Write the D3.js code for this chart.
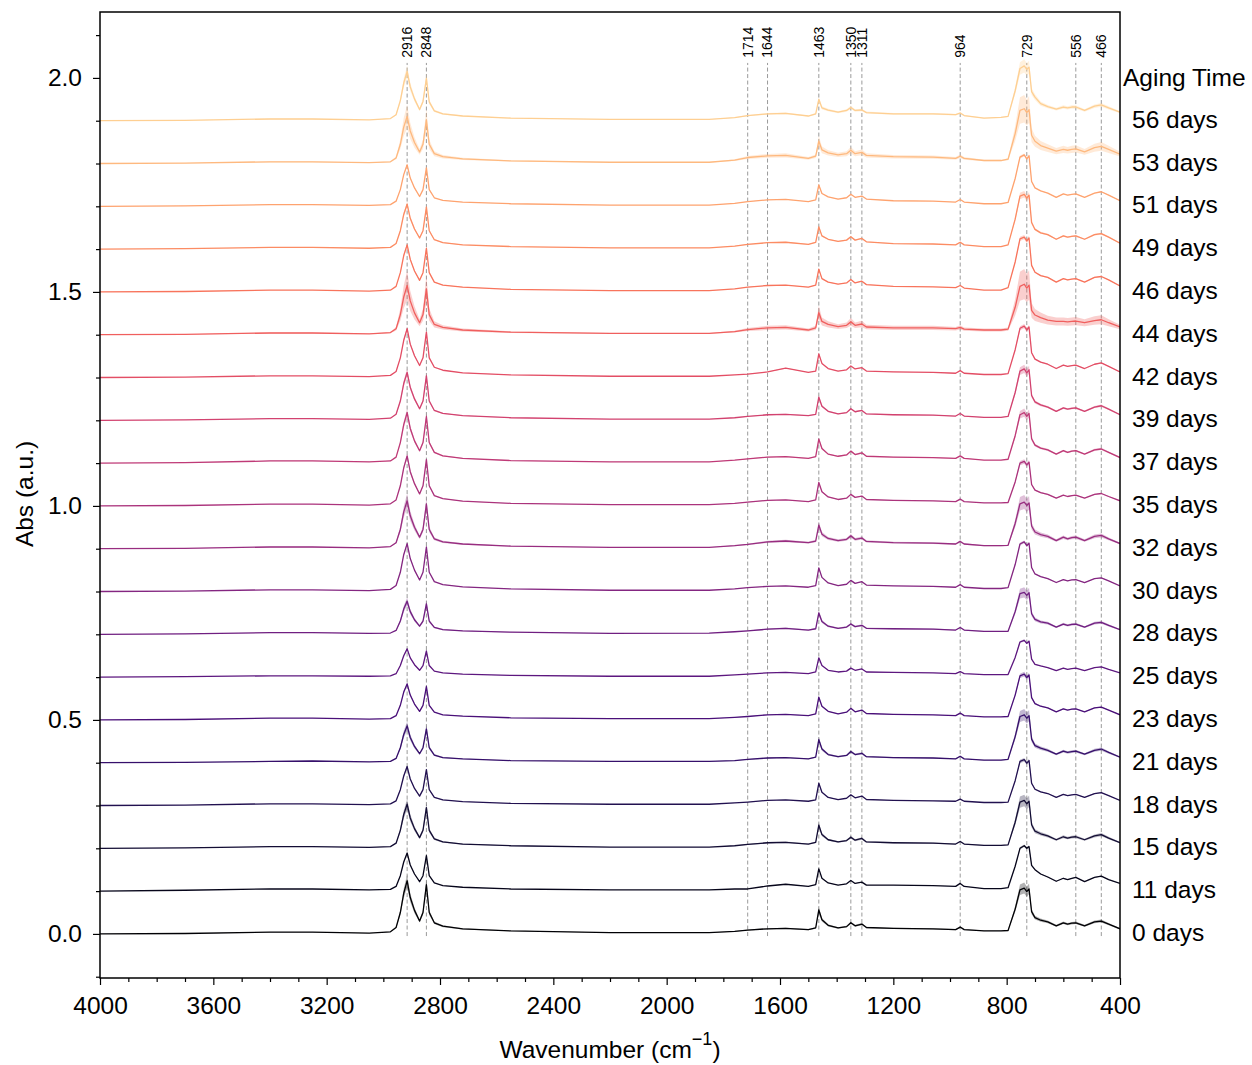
<!DOCTYPE html>
<html>
<head>
<meta charset="utf-8">
<script src="https://d3js.org/d3.v7.min.js"></script>
<style>
  body { margin: 0; background: #fff; }
  text { font-family: "Liberation Sans", Arial, Helvetica, sans-serif; }
</style>
</head>
<body>
<script>
// shared wavenumber grid (cm-1) for all spectra
var wavenumbers = [4000, 3700, 3400, 3250, 3050,
  2975, 2955, 2940, 2928, 2916, 2905, 2890, 2872, 2860, 2848, 2838, 2820, 2790,
  2720, 2550, 2200, 1850, 1760,
  1714, 1644, 1580, 1500, 1474, 1463, 1452, 1430, 1395, 1365, 1350, 1335, 1311, 1295,
  1200, 1060, 980, 964, 950, 880, 820,
  795, 770, 753, 738, 729, 721, 712, 700, 680, 655, 625, 600, 585, 570, 556, 525, 490, 466, 440, 400];

var days = [0, 11, 15, 18, 21, 23, 25, 28, 30, 32, 35, 37, 39, 42, 44, 46, 49, 51, 53, 56];
var offsets = [0.0, 0.1, 0.2, 0.3, 0.4, 0.5, 0.6, 0.7, 0.8, 0.9, 1.0, 1.1, 1.2, 1.3, 1.4, 1.5, 1.6, 1.7, 1.8, 1.9];

// mean absorbance (before offset), one row per aging time
var absorbance = [
  [0.000,0.001,0.004,0.004,0.002, 0.005,0.015,0.050,0.095,0.124,0.085,0.055,0.030,0.050,0.115,0.050,0.026,0.018, 0.012,0.007,0.003,0.003,0.006, 0.009,0.012,0.013,0.010,0.014,0.056,0.033,0.020,0.014,0.017,0.026,0.019,0.023,0.015, 0.013,0.012,0.010,0.016,0.010,0.007,0.007, 0.008,0.058,0.103,0.107,0.099,0.105,0.052,0.038,0.032,0.028,0.019,0.026,0.023,0.025,0.026,0.019,0.028,0.030,0.023,0.012],
  [0.000,0.002,0.005,0.005,0.003, 0.004,0.011,0.036,0.068,0.089,0.061,0.040,0.022,0.036,0.083,0.036,0.019,0.013, 0.009,0.005,0.003,0.003,0.005, 0.005,0.012,0.016,0.011,0.015,0.052,0.030,0.019,0.014,0.017,0.025,0.018,0.021,0.014, 0.014,0.013,0.011,0.018,0.011,0.006,0.006, 0.008,0.058,0.100,0.106,0.100,0.104,0.060,0.050,0.040,0.033,0.023,0.030,0.027,0.030,0.032,0.022,0.032,0.035,0.027,0.018],
  [0.000,0.001,0.004,0.004,0.002, 0.004,0.012,0.042,0.079,0.103,0.071,0.046,0.025,0.042,0.095,0.042,0.022,0.015, 0.010,0.006,0.003,0.003,0.006, 0.009,0.013,0.014,0.010,0.014,0.054,0.032,0.020,0.015,0.018,0.026,0.019,0.023,0.015, 0.013,0.012,0.010,0.016,0.010,0.007,0.007, 0.008,0.061,0.108,0.112,0.104,0.110,0.055,0.040,0.034,0.029,0.020,0.027,0.024,0.026,0.027,0.020,0.029,0.032,0.024,0.013],
  [0.000,0.001,0.004,0.004,0.002, 0.004,0.011,0.037,0.069,0.091,0.062,0.040,0.022,0.037,0.084,0.037,0.019,0.013, 0.009,0.005,0.003,0.003,0.006, 0.008,0.012,0.013,0.010,0.013,0.052,0.031,0.019,0.014,0.017,0.025,0.018,0.022,0.014, 0.012,0.011,0.010,0.015,0.010,0.007,0.007, 0.008,0.058,0.103,0.107,0.099,0.105,0.052,0.038,0.032,0.028,0.019,0.026,0.023,0.025,0.026,0.019,0.028,0.030,0.023,0.012],
  [0.000,0.001,0.003,0.004,0.002, 0.003,0.010,0.035,0.066,0.086,0.059,0.038,0.021,0.035,0.079,0.035,0.018,0.012, 0.009,0.005,0.003,0.003,0.005, 0.008,0.011,0.012,0.009,0.013,0.054,0.032,0.019,0.014,0.017,0.026,0.019,0.022,0.014, 0.012,0.011,0.009,0.015,0.009,0.006,0.006, 0.008,0.061,0.108,0.112,0.104,0.110,0.055,0.040,0.034,0.029,0.020,0.027,0.024,0.026,0.027,0.020,0.029,0.032,0.024,0.013],
  [0.000,0.001,0.004,0.004,0.002, 0.003,0.010,0.034,0.065,0.084,0.058,0.037,0.020,0.034,0.078,0.034,0.018,0.012, 0.009,0.005,0.003,0.003,0.006, 0.008,0.012,0.013,0.010,0.014,0.053,0.032,0.020,0.014,0.018,0.027,0.019,0.023,0.015, 0.013,0.012,0.010,0.016,0.010,0.007,0.007, 0.008,0.058,0.103,0.107,0.099,0.105,0.052,0.038,0.032,0.028,0.019,0.026,0.023,0.025,0.026,0.019,0.028,0.030,0.023,0.012],
  [0.000,0.001,0.003,0.003,0.002, 0.003,0.008,0.027,0.050,0.066,0.045,0.029,0.016,0.027,0.061,0.027,0.014,0.010, 0.007,0.004,0.002,0.002,0.005, 0.007,0.010,0.011,0.008,0.012,0.045,0.027,0.016,0.012,0.014,0.021,0.016,0.019,0.012, 0.011,0.010,0.008,0.013,0.008,0.006,0.006, 0.006,0.046,0.082,0.086,0.079,0.084,0.042,0.030,0.026,0.022,0.015,0.021,0.018,0.020,0.021,0.015,0.022,0.024,0.018,0.010],
  [0.000,0.001,0.004,0.004,0.002, 0.003,0.009,0.031,0.059,0.077,0.053,0.034,0.019,0.031,0.071,0.031,0.016,0.011, 0.008,0.005,0.002,0.003,0.006, 0.008,0.012,0.014,0.010,0.013,0.050,0.030,0.019,0.014,0.017,0.024,0.018,0.021,0.014, 0.013,0.012,0.010,0.016,0.010,0.007,0.007, 0.007,0.053,0.095,0.098,0.091,0.097,0.048,0.035,0.029,0.026,0.017,0.024,0.021,0.023,0.024,0.017,0.026,0.028,0.021,0.011],
  [0.000,0.001,0.004,0.004,0.002, 0.005,0.014,0.045,0.086,0.112,0.077,0.050,0.027,0.045,0.104,0.045,0.023,0.016, 0.011,0.006,0.003,0.003,0.006, 0.009,0.012,0.013,0.010,0.014,0.055,0.033,0.020,0.014,0.017,0.026,0.019,0.023,0.015, 0.013,0.012,0.010,0.016,0.010,0.007,0.007, 0.009,0.063,0.111,0.116,0.107,0.113,0.056,0.041,0.035,0.030,0.021,0.028,0.025,0.027,0.028,0.021,0.030,0.032,0.025,0.013],
  [0.000,0.001,0.004,0.004,0.002, 0.005,0.014,0.045,0.086,0.112,0.077,0.050,0.027,0.045,0.104,0.045,0.023,0.016, 0.011,0.006,0.003,0.003,0.007, 0.010,0.016,0.018,0.014,0.018,0.055,0.034,0.024,0.019,0.022,0.030,0.022,0.025,0.017, 0.014,0.013,0.011,0.017,0.011,0.007,0.007, 0.008,0.059,0.105,0.109,0.101,0.107,0.053,0.039,0.033,0.029,0.019,0.027,0.023,0.026,0.027,0.019,0.029,0.031,0.023,0.012],
  [0.000,0.001,0.004,0.004,0.002, 0.005,0.014,0.047,0.089,0.117,0.080,0.052,0.028,0.047,0.108,0.047,0.024,0.017, 0.011,0.006,0.003,0.003,0.006, 0.009,0.013,0.014,0.010,0.014,0.055,0.033,0.021,0.015,0.018,0.027,0.020,0.023,0.015, 0.013,0.012,0.010,0.016,0.010,0.007,0.007, 0.008,0.056,0.100,0.104,0.096,0.102,0.050,0.037,0.031,0.027,0.018,0.025,0.022,0.024,0.025,0.018,0.027,0.029,0.022,0.012],
  [0.000,0.001,0.005,0.005,0.003, 0.005,0.014,0.048,0.090,0.118,0.081,0.052,0.029,0.048,0.109,0.048,0.025,0.017, 0.011,0.006,0.003,0.003,0.007, 0.010,0.014,0.015,0.011,0.015,0.056,0.034,0.021,0.016,0.019,0.028,0.020,0.024,0.016, 0.014,0.013,0.011,0.017,0.011,0.007,0.007, 0.009,0.064,0.113,0.118,0.109,0.116,0.057,0.042,0.035,0.031,0.021,0.029,0.025,0.028,0.029,0.021,0.031,0.033,0.025,0.013],
  [0.000,0.001,0.004,0.004,0.002, 0.005,0.014,0.045,0.086,0.112,0.077,0.050,0.027,0.045,0.104,0.045,0.023,0.016, 0.011,0.006,0.003,0.003,0.006, 0.009,0.013,0.014,0.011,0.014,0.054,0.033,0.021,0.015,0.018,0.027,0.020,0.023,0.015, 0.013,0.012,0.010,0.016,0.010,0.007,0.007, 0.009,0.065,0.115,0.120,0.111,0.118,0.058,0.043,0.036,0.031,0.021,0.029,0.026,0.028,0.029,0.021,0.031,0.034,0.026,0.013],
  [0.000,0.001,0.004,0.004,0.002, 0.005,0.014,0.046,0.087,0.114,0.078,0.051,0.028,0.046,0.106,0.046,0.024,0.017, 0.011,0.006,0.003,0.003,0.006, 0.008,0.013,0.022,0.012,0.015,0.055,0.033,0.021,0.015,0.018,0.027,0.020,0.023,0.015, 0.013,0.012,0.010,0.016,0.010,0.007,0.007, 0.009,0.065,0.115,0.120,0.111,0.118,0.058,0.043,0.036,0.031,0.021,0.029,0.026,0.028,0.029,0.021,0.031,0.034,0.026,0.013],
  [0.000,0.001,0.004,0.004,0.002, 0.005,0.014,0.047,0.088,0.115,0.079,0.051,0.028,0.047,0.107,0.047,0.024,0.017, 0.011,0.006,0.003,0.003,0.007, 0.012,0.016,0.017,0.011,0.016,0.052,0.031,0.024,0.019,0.022,0.030,0.022,0.025,0.018, 0.016,0.016,0.014,0.017,0.013,0.011,0.011, 0.013,0.064,0.113,0.118,0.109,0.116,0.057,0.046,0.040,0.034,0.031,0.031,0.030,0.031,0.032,0.028,0.033,0.035,0.028,0.018],
  [0.000,0.001,0.004,0.004,0.002, 0.004,0.013,0.045,0.085,0.110,0.076,0.049,0.027,0.045,0.102,0.045,0.023,0.016, 0.011,0.006,0.003,0.003,0.007, 0.011,0.015,0.016,0.011,0.016,0.053,0.031,0.023,0.018,0.021,0.029,0.021,0.025,0.017, 0.013,0.012,0.010,0.015,0.009,0.004,0.004, 0.010,0.070,0.124,0.128,0.119,0.126,0.062,0.046,0.038,0.034,0.023,0.031,0.028,0.030,0.031,0.023,0.034,0.036,0.028,0.014],
  [0.000,0.001,0.004,0.004,0.002, 0.004,0.013,0.043,0.081,0.105,0.072,0.047,0.026,0.043,0.098,0.043,0.022,0.015, 0.010,0.006,0.003,0.003,0.007, 0.011,0.015,0.016,0.011,0.016,0.052,0.031,0.023,0.018,0.021,0.029,0.021,0.025,0.017, 0.013,0.012,0.010,0.016,0.010,0.006,0.006, 0.010,0.070,0.124,0.128,0.119,0.126,0.062,0.046,0.038,0.034,0.023,0.031,0.028,0.030,0.031,0.023,0.034,0.036,0.028,0.014],
  [0.000,0.001,0.004,0.004,0.002, 0.004,0.012,0.039,0.074,0.097,0.066,0.043,0.023,0.039,0.090,0.039,0.020,0.014, 0.010,0.006,0.003,0.003,0.007, 0.011,0.015,0.016,0.011,0.015,0.050,0.030,0.022,0.017,0.020,0.028,0.021,0.024,0.017, 0.013,0.012,0.010,0.016,0.010,0.006,0.006, 0.009,0.065,0.115,0.120,0.111,0.118,0.058,0.043,0.036,0.031,0.021,0.029,0.026,0.028,0.029,0.021,0.031,0.034,0.026,0.013],
  [0.000,0.001,0.004,0.004,0.002, 0.004,0.013,0.045,0.085,0.110,0.076,0.049,0.027,0.045,0.102,0.045,0.023,0.016, 0.011,0.006,0.003,0.003,0.008, 0.014,0.018,0.019,0.012,0.017,0.052,0.032,0.025,0.020,0.023,0.031,0.023,0.026,0.019, 0.016,0.015,0.012,0.017,0.012,0.007,0.007, 0.010,0.070,0.124,0.128,0.119,0.126,0.066,0.052,0.042,0.036,0.029,0.033,0.031,0.033,0.034,0.027,0.037,0.040,0.033,0.022],
  [0.000,0.001,0.004,0.004,0.002, 0.005,0.014,0.047,0.088,0.115,0.079,0.051,0.026,0.045,0.099,0.044,0.023,0.016, 0.011,0.006,0.003,0.003,0.007, 0.012,0.016,0.017,0.011,0.016,0.050,0.030,0.025,0.020,0.024,0.031,0.024,0.025,0.019, 0.016,0.016,0.014,0.018,0.012,0.006,0.008, 0.010,0.070,0.122,0.128,0.120,0.125,0.068,0.055,0.040,0.033,0.027,0.032,0.030,0.032,0.032,0.024,0.034,0.037,0.030,0.020]
];

var spread = [0.12, 0.03, 0.12, 0.04, 0.12, 0.05, 0.03, 0.12, 0.03, 0.15, 0.05, 0.08, 0.08, 0.04, 0.30, 0.04, 0.06, 0.03, 0.25, 0.12];

var peaks = [2916, 2848, 1714, 1644, 1463, 1350, 1311, 964, 729, 556, 466];

var xMajor = [4000, 3600, 3200, 2800, 2400, 2000, 1600, 1200, 800, 400];
var yMajor = [0.0, 0.5, 1.0, 1.5, 2.0];

var width = 1252, height = 1065;
var svg = d3.select("body").append("svg")
    .attr("width", width)
    .attr("height", height);

var x = d3.scaleLinear().domain([4000, 400]).range([100, 1120]);
var y = d3.scaleLinear().domain([-0.103, 2.154]).range([978, 12]);

// colour per series from magma (0 .. 0.9)
var color = function (i) { return d3.interpolateMagma(0.9 * i / (days.length - 1)); };

svg.append("defs").append("clipPath").attr("id", "clip")
    .append("rect").attr("x", 100).attr("y", 12).attr("width", 1020).attr("height", 966);

// dashed guide lines at band positions
var guides = svg.append("g").attr("class", "guides");
guides.selectAll("line")
    .data(peaks)
    .enter().append("line")
    .attr("x1", function (d) { return x(d); })
    .attr("x2", function (d) { return x(d); })
    .attr("y1", y(-0.005))
    .attr("y2", y(2.035))
    .attr("stroke", "#9a9a9a")
    .attr("stroke-width", 1)
    .attr("stroke-dasharray", "4,2.5");

guides.selectAll("text")
    .data(peaks)
    .enter().append("text")
    .attr("transform", function (d) { return "translate(" + x(d) + "," + y(2.047) + ") rotate(-90)"; })
    .attr("dy", "0.35em")
    .style("font-size", "14px")
    .text(function (d) { return d; });

// spectra
var plot = svg.append("g").attr("clip-path", "url(#clip)");

var series = days.map(function (d, i) {
    return absorbance[i].map(function (v, j) {
        return { wn: wavenumbers[j], v: v, off: offsets[i], s: spread[i] };
    });
});

var area = d3.area()
    .x(function (d) { return x(d.wn); })
    .y0(function (d) { return y(d.off + d.v * (1 - d.s)); })
    .y1(function (d) { return y(d.off + d.v * (1 + d.s)); });

var line = d3.line()
    .x(function (d) { return x(d.wn); })
    .y(function (d) { return y(d.off + d.v); });

series.forEach(function (pts, i) {
    plot.append("path")
        .attr("d", area(pts))
        .attr("fill", color(i))
        .attr("fill-opacity", 0.3)
        .attr("stroke", "none");
    plot.append("path")
        .attr("d", line(pts))
        .attr("fill", "none")
        .attr("stroke", color(i))
        .attr("stroke-width", 1.3)
        .attr("stroke-linejoin", "round");
});

// axes
svg.append("g").attr("transform", "translate(0,978)")
    .call(d3.axisBottom(x).tickValues(xMajor).tickSize(7).tickPadding(12).tickFormat(d3.format("d")));
svg.append("g").attr("transform", "translate(0,978)")
    .call(d3.axisBottom(x).tickValues(d3.range(500, 4000, 100).filter(function (v) { return v % 400 !== 0; }))
        .tickSize(4).tickFormat(""));
svg.append("g").attr("transform", "translate(100,0)")
    .call(d3.axisLeft(y).tickValues(yMajor).tickSize(7).tickPadding(11).tickFormat(d3.format(".1f")));
svg.append("g").attr("transform", "translate(100,0)")
    .call(d3.axisLeft(y).tickValues([-0.1, 0.1, 0.2, 0.3, 0.4, 0.6, 0.7, 0.8, 0.9, 1.1, 1.2, 1.3, 1.4, 1.6, 1.7, 1.8, 1.9, 2.1])
        .tickSize(4).tickFormat(""));

svg.selectAll(".domain").remove();
svg.selectAll(".tick line").attr("stroke", "#000").attr("stroke-width", 1.2);
svg.selectAll(".tick text").attr("fill", "#000").style("font-size", "24.5px")
    .style("font-family", "'Liberation Sans', Arial, sans-serif");

// frame
svg.append("rect")
    .attr("x", 100).attr("y", 12).attr("width", 1020).attr("height", 966)
    .attr("fill", "none").attr("stroke", "#000").attr("stroke-width", 1.5);

// axis titles
svg.append("text")
    .attr("transform", "translate(33,494) rotate(-90)")
    .attr("text-anchor", "middle")
    .style("font-size", "24.5px")
    .text("Abs (a.u.)");

var xt = svg.append("text")
    .attr("x", 610).attr("y", 1058)
    .attr("text-anchor", "middle")
    .style("font-size", "24.5px");
xt.append("tspan").text("Wavenumber (cm");
xt.append("tspan").attr("dy", -13).style("font-size", "18px").text("\u22121");
xt.append("tspan").attr("dy", 13).text(")");

// legend (labels only)
svg.append("text")
    .attr("x", 1123).attr("y", 86)
    .style("font-size", "24.5px")
    .text("Aging Time");

svg.append("g").selectAll("text")
    .data(days)
    .enter().append("text")
    .attr("x", 1132)
    .attr("y", function (d, i) { return y(offsets[i]) + 7; })
    .style("font-size", "24.5px")
    .text(function (d) { return d + " days"; });
</script>
</body>
</html>
